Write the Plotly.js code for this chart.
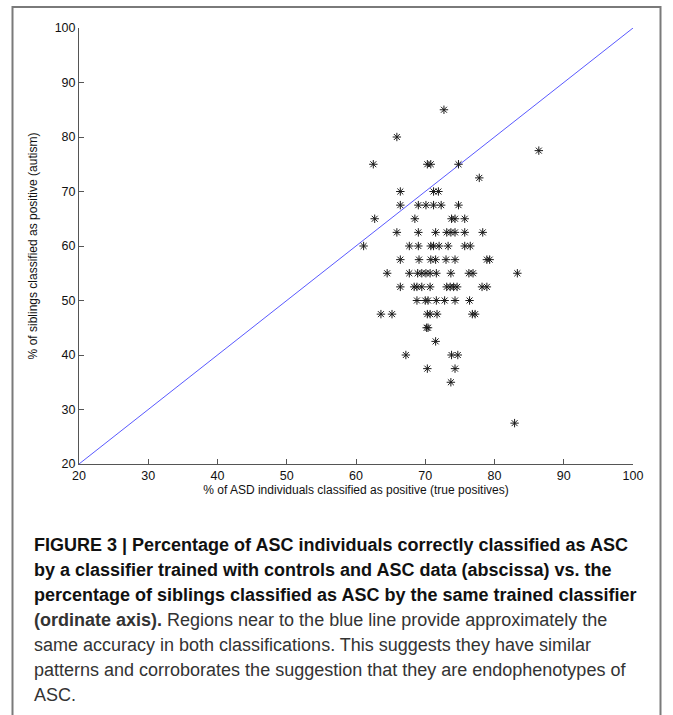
<!DOCTYPE html>
<html>
<head>
<meta charset="utf-8">
<script src="https://cdn.plot.ly/plotly-3.0.1.min.js"></script>
<style>
html,body{margin:0;padding:0;background:#fff;}
#chart{width:673px;height:715px;}
</style>
</head>
<body>
<div id="chart"></div>
<script>
// % of ASD individuals classified as positive (true positives)
const asdPositive = [
  72.7,
  65.9,
  86.4,
  62.5, 70.3, 70.8, 74.8,
  77.8,
  66.4, 71.2, 71.9,
  66.4, 69.0, 70.1, 71.2, 72.3, 74.8,
  62.7, 68.5, 73.8, 74.3, 75.7,
  65.9, 69.0, 71.5, 73.1, 73.7, 74.3, 75.7, 78.3,
  61.1, 67.7, 69.0, 70.8, 71.2, 72.0, 73.3, 75.7, 76.5,
  66.4, 69.1, 70.8, 71.5, 73.0, 74.3, 78.9, 79.3,
  64.5, 67.7, 68.9, 69.5, 70.1, 70.7, 71.6, 73.7, 76.3, 76.9, 83.3,
  66.4, 68.4, 68.8, 69.5, 70.7, 73.1, 73.6, 74.1, 74.6, 78.2, 78.9,
  68.8, 70.0, 70.4, 71.6, 72.8, 74.3, 76.4,
  63.6, 65.2, 70.3, 70.7, 71.7, 76.8, 77.2,
  70.2, 70.4,
  71.5,
  67.2, 73.8, 74.7,
  70.3, 74.3,
  73.7,
  82.9
];
// % of siblings classified as positive (autism)
const siblingsPositive = [
  85,
  80,
  77.5,
  75, 75, 75, 75,
  72.5,
  70, 70, 70,
  67.5, 67.5, 67.5, 67.5, 67.5, 67.5,
  65, 65, 65, 65, 65,
  62.5, 62.5, 62.5, 62.5, 62.5, 62.5, 62.5, 62.5,
  60, 60, 60, 60, 60, 60, 60, 60, 60,
  57.5, 57.5, 57.5, 57.5, 57.5, 57.5, 57.5, 57.5,
  55, 55, 55, 55, 55, 55, 55, 55, 55, 55, 55,
  52.5, 52.5, 52.5, 52.5, 52.5, 52.5, 52.5, 52.5, 52.5, 52.5, 52.5,
  50, 50, 50, 50, 50, 50, 50,
  47.5, 47.5, 47.5, 47.5, 47.5, 47.5, 47.5,
  45, 45,
  42.5,
  40, 40, 40,
  37.5, 37.5,
  35,
  27.5
];
const identityLine = [20, 100];
const tickValues = [20, 30, 40, 50, 60, 70, 80, 90, 100];

const captionLines = [
  "<b>FIGURE 3 | Percentage of ASC individuals correctly classified as ASC</b>",
  "<b>by a classifier trained with controls and ASC data (abscissa) vs. the</b>",
  "<b>percentage of siblings classified as ASC by the same trained classifier</b>",
  "<b>(ordinate axis).</b> Regions near to the blue line provide approximately the",
  "same accuracy in both classifications. This suggests they have similar",
  "patterns and corroborates the suggestion that they are endophenotypes of",
  "ASC."
];
const captionPx = [545, 570, 595, 620, 645, 670, 695];

const W = 673, H = 715;
const mL = 79, mR = 40, mT = 28, mB = 251;
const pw = W - mL - mR, ph = H - mT - mB;
const px2x = p => (p - mL) / pw;
const py2y = p => (H - mB - p) / ph;

const traces = [
  {
    x: identityLine, y: identityLine, mode: 'lines', type: 'scatter',
    line: {color: '#4646ff', width: 0.9}, hoverinfo: 'skip', showlegend: false
  },
  {
    x: asdPositive, y: siblingsPositive, mode: 'markers', type: 'scatter',
    marker: {symbol: 'asterisk-open', size: 7, color: '#1a1a1a', line: {color: '#1a1a1a', width: 1}},
    showlegend: false
  }
];

const axisFont = {family: 'Liberation Sans, Arial, sans-serif', size: 12.5, color: '#111'};
const titleFont = {family: 'Liberation Sans, Arial, sans-serif', size: 12, color: '#111'};

const annotations = captionLines.map((t, i) => ({
  text: t, xref: 'paper', yref: 'paper',
  x: px2x(32), y: py2y(captionPx[i]),
  xanchor: 'left', yanchor: 'middle', showarrow: false, align: 'left',
  font: {family: 'Liberation Sans, Arial, sans-serif', size: 18, color: i >= 3 ? '#333' : '#111'}
}));

const layout = {
  width: W, height: H,
  margin: {l: mL, r: mR, t: mT, b: mB},
  paper_bgcolor: '#fff', plot_bgcolor: '#fff',
  showlegend: false,
  xaxis: {
    range: [20, 100], tickvals: tickValues, ticks: 'inside', ticklen: 5, tickcolor: '#555',
    showline: true, linecolor: '#555', linewidth: 1, mirror: false,
    showgrid: false, zeroline: false, tickfont: axisFont,
    title: {text: '% of ASD individuals classified as positive (true positives)', font: titleFont, standoff: 3},
    automargin: false
  },
  yaxis: {
    range: [20, 100], tickvals: tickValues, ticks: 'inside', ticklen: 5, tickcolor: '#555',
    showline: true, linecolor: '#555', linewidth: 1, mirror: false,
    showgrid: false, zeroline: false, tickfont: axisFont,
    title: {text: '% of siblings classified as positive (autism)', font: titleFont, standoff: 14},
    automargin: false
  },
  shapes: [
    {
      type: 'path', xref: 'paper', yref: 'paper',
      path: `M ${px2x(12.5)} ${py2y(730)} L ${px2x(12.5)} ${py2y(7)} L ${px2x(660.5)} ${py2y(7)} L ${px2x(660.5)} ${py2y(730)}`,
      line: {color: '#7a7a7a', width: 2}
    }
  ],
  annotations: annotations
};

Plotly.newPlot('chart', traces, layout, {displayModeBar: false, staticPlot: true});
</script>
</body>
</html>
